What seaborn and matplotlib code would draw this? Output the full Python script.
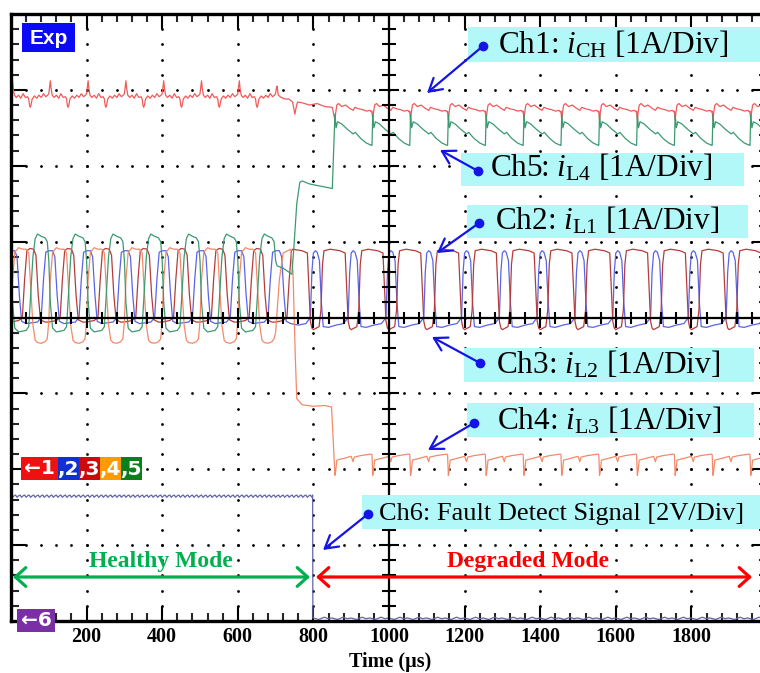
import numpy as np
import pandas as pd
import matplotlib
matplotlib.use("Agg")
import matplotlib.pyplot as plt
from matplotlib.patches import Rectangle, FancyArrowPatch
from matplotlib.lines import Line2D
import seaborn as sns

# ---------------- data (time in µs, amplitude in divisions) -------------
PERIOD = 100          # switching period (µs)
FAULT_T = 798         # fault detect signal edge (µs)
SWITCH_T = 745        # phases 1/2 change pattern (µs)
JUMP_T0 = 855         # first degraded-mode commutation (µs)
T_END = 2000

# Ch1 i_CH  (healthy one-period shape, absolute phase)
ch1_h_t = [0, 2, 4, 6, 9, 14, 20, 26, 32, 38, 44, 47, 49, 51, 53, 56, 62, 68, 74, 80, 86, 92, 97]
ch1_h_v = [2.95, 3.04, 3.12, 3.02, 2.93, 2.9, 2.93, 2.89, 2.95, 2.9, 2.91, 2.88, 2.8, 2.77, 2.8,
           2.88, 2.92, 2.89, 2.93, 2.9, 2.95, 2.91, 2.93]
ch1_tr_t = [700, 702, 704, 707, 715, 725, 735, 745, 748, 751, 754, 758, 770, 790, 810, 830, 850]
ch1_tr_v = [2.95, 3.02, 3.05, 2.93, 2.9, 2.88, 2.88, 2.84, 2.76, 2.68, 2.76, 2.84, 2.83, 2.8,
            2.82, 2.78, 2.77]
ch1_d_t = [0, 2, 4, 7, 12, 20, 30, 40, 50, 55, 65, 75, 85, 95, 98]
ch1_d_v = [2.72, 2.6, 2.7, 2.8, 2.82, 2.78, 2.8, 2.76, 2.73, 2.77, 2.75, 2.74, 2.72, 2.73, 2.71]

# Ch2 i_L1
ch2_h_t = [0, 10, 16, 22, 28, 40, 55, 70, 80, 86, 92]
ch2_h_v = [0.88, 0.88, 0.8, 0.3, -0.05, -0.08, -0.07, -0.06, 0.0, 0.5, 0.86]
ch2_d_t = [0, 5, 10, 16, 21, 26, 40, 60, 80, 92, 96]
ch2_d_v = [0.85, 0.88, 0.86, 0.75, 0.2, -0.12, -0.13, -0.1, -0.08, 0.0, 0.6]

# Ch3 i_L2
ch3_h_t = [0, 20, 30, 36, 42, 50, 60, 66, 72, 78, 90]
ch3_h_v = [-0.06, -0.04, 0.0, 0.5, 0.88, 0.91, 0.9, 0.82, 0.3, -0.03, -0.06]
ch3_d_t = [0, 15, 20, 24, 28, 45, 70, 84, 88, 92, 96]
ch3_d_v = [-0.16, -0.12, 0.1, 0.7, 0.88, 0.9, 0.88, 0.85, 0.4, -0.05, -0.14]

# Ch4 i_L3
ch4_h_t = [0, 4, 10, 20, 30, 40, 47, 52, 58, 64, 70, 80, 90, 96]
ch4_h_v = [-0.05, 0.5, 0.86, 0.92, 0.9, 0.9, 0.85, 0.4, -0.1, -0.3, -0.33, -0.34, -0.32, -0.28]
ch4_tr_t = [700, 710, 720, 740, 746, 752, 756, 770, 800, 830, 848]
ch4_tr_v = [-0.2, 0.5, 0.85, 0.9, 0.6, -0.5, -1.07, -1.15, -1.17, -1.16, -1.18]
ch4_d_t = [0, 2, 4, 7, 15, 30, 45, 50, 53, 70, 85, 98]
ch4_d_v = [-1.81, -2.08, -2.02, -1.88, -1.87, -1.85, -1.83, -1.9, -1.84, -1.82, -1.81, -1.8]

# Ch5 i_L4
ch5_h_t = [0, 4, 10, 20, 30, 40, 47, 52, 58, 64, 70, 80, 90, 96]
ch5_h_v = [0.75, 0.2, -0.14, -0.19, -0.18, -0.17, -0.12, 0.3, 0.8, 1.04, 1.1, 1.07, 1.05, 1.0]
ch5_tr_t = [700, 704, 720, 743, 748, 756, 764, 770, 790, 820, 850]
ch5_tr_v = [0.75, 0.68, 0.65, 0.57, 0.9, 1.5, 1.78, 1.8, 1.76, 1.73, 1.7]
ch5_d_t = [0, 2, 5, 9, 20, 35, 50, 56, 70, 85, 98]
ch5_d_v = [2.27, 2.68, 2.5, 2.58, 2.55, 2.48, 2.42, 2.44, 2.36, 2.3, 2.27]

# Ch6 fault detect signal
ch6_hi_t = [0, 4, 8]
ch6_hi_v = [-2.34, -2.37, -2.35]
ch6_lo_t = [0, 15, 30, 40]
ch6_lo_v = [-3.96, -3.98, -3.95, -3.97]

x_ticks = [200, 400, 600, 800, 1000, 1200, 1400, 1600, 1800]
x_ticklabels = ["200", "400", "600", "800", "1000", "1200", "1400", "1600", "1800"]

colors = {"ch1": "#f05a5a", "ch2": "#5a64e6", "ch3": "#b43c3c",
          "ch4": "#f28a6a", "ch5": "#3c9a70", "ch6": "#6464a8"}


def tile(tt, vv, start, stop, base, period=PERIOD):
    ts, vs = [], []
    while base < stop:
        for a, b in zip(tt, vv):
            t = base + a
            if start <= t < stop:
                ts.append(t)
                vs.append(b)
        base += period
    return ts, vs


def build():
    rows = []

    def add(name, ts, vs):
        for t, v in zip(ts, vs):
            rows.append((name, t, v))

    add("ch1", *tile(ch1_h_t, ch1_h_v, 0, 700, 0))
    add("ch1", ch1_tr_t, ch1_tr_v)
    add("ch1", *tile(ch1_d_t, ch1_d_v, JUMP_T0 + 1, T_END, JUMP_T0))
    for nm, ht, hv, dt, dv in [("ch2", ch2_h_t, ch2_h_v, ch2_d_t, ch2_d_v),
                               ("ch3", ch3_h_t, ch3_h_v, ch3_d_t, ch3_d_v)]:
        add(nm, *tile(ht, hv, 0, SWITCH_T, 0))
        add(nm, *tile(dt, dv, SWITCH_T, T_END, 700))
    add("ch4", *tile(ch4_h_t, ch4_h_v, 0, 700, 0))
    add("ch4", ch4_tr_t, ch4_tr_v)
    add("ch4", *tile(ch4_d_t, ch4_d_v, JUMP_T0 + 1, T_END, JUMP_T0))
    add("ch5", *tile(ch5_h_t, ch5_h_v, 0, 700, 0))
    add("ch5", ch5_tr_t, ch5_tr_v)
    add("ch5", *tile(ch5_d_t, ch5_d_v, JUMP_T0 + 1, T_END, JUMP_T0))
    add("ch6", *tile(ch6_hi_t, ch6_hi_v, 0, FAULT_T, 0, period=12))
    add("ch6", [FAULT_T, FAULT_T + 0.6], [ch6_hi_v[0], ch6_lo_v[0]])
    add("ch6", *tile(ch6_lo_t, ch6_lo_v, FAULT_T + 1, T_END, FAULT_T + 1, period=50))
    return pd.DataFrame(rows, columns=["ch", "t", "v"])


df = build()

# ---------------- figure ----------------
sns.set_style("white")
plt.rcParams["font.family"] = ["Liberation Serif", "DejaVu Serif"]
plt.rcParams["mathtext.fontset"] = "custom"
plt.rcParams["mathtext.rm"] = "Liberation Serif"
plt.rcParams["mathtext.it"] = "Liberation Serif:italic"
plt.rcParams["mathtext.bf"] = "Liberation Serif:bold"

W, H = 760, 673
fig = plt.figure(figsize=(W / 100, H / 100), dpi=100)
ax = fig.add_axes([11 / W, 1 - 621 / H, 756 / W, 607 / H])

# graticule dots
minor_x = np.arange(40, 2000, 40)
minor_y = np.round(np.arange(-3.8, 3.81, 0.2), 2)
for gx in [200, 400, 600, 800, 1200, 1400, 1600, 1800]:
    ax.plot(np.full(len(minor_y), gx), minor_y, ls="none", marker="o", ms=2.0,
            mew=0, color="black", zorder=1)
for gy in [-3, -2, -1, 1, 2, 3]:
    ax.plot(minor_x, np.full(len(minor_x), gy), ls="none", marker="o", ms=2.0,
            mew=0, color="black", zorder=1)

sns.lineplot(data=df, x="t", y="v", hue="ch", palette=colors, estimator=None,
             sort=False, legend=False, linewidth=0.9, ax=ax, zorder=3)

# centre cross with ticks
ax.axhline(0, color="black", lw=1.6, zorder=4)
ax.axvline(1000, color="black", lw=1.6, zorder=4)
mx = minor_x[minor_x % 200 != 0]
Mx = np.arange(200, 2000, 200)
ax.plot(mx, np.zeros(len(mx)), ls="none", marker="|", ms=9, mew=1.5, color="black", zorder=4)
ax.plot(Mx, np.zeros(len(Mx)), ls="none", marker="|", ms=15, mew=1.5, color="black", zorder=4)
my = np.array([y for y in minor_y if abs(y - round(y)) > 1e-6])
My = np.array([-3, -2, -1, 1, 2, 3])
ax.plot(np.full(len(my), 1000), my, ls="none", marker="_", ms=10, mew=1.5, color="black", zorder=4)
ax.plot(np.full(len(My), 1000), My, ls="none", marker="_", ms=15, mew=1.5, color="black", zorder=4)

ax.set_xlim(0, 2000)
ax.set_ylim(-4, 4)
ax.set_xticks(x_ticks)
ax.set_xticklabels(x_ticklabels, fontsize=14.5, fontweight="bold")
ax.set_xticks(minor_x, minor=True)
ax.set_yticks(np.arange(-3, 4, 1))
ax.set_yticklabels([])
ax.set_yticks(minor_y, minor=True)
ax.tick_params(axis="both", which="major", direction="in", length=10.5, width=1.5,
               top=True, bottom=True, left=True, right=True, pad=4, colors="black")
ax.tick_params(axis="both", which="minor", direction="in", length=5.5, width=1.5,
               top=True, bottom=True, left=True, right=True)
ax.set_xlabel("")
ax.set_ylabel("")
for sp in ax.spines.values():
    sp.set_linewidth(2.4)
    sp.set_color("black")
    sp.set_zorder(6)


def fxy(px, py):
    return px / W, 1 - py / H


def rect(x0, y0, x1, y1, color, z=2):
    fig.add_artist(Rectangle(fxy(x0, y1), (x1 - x0) / W, (y1 - y0) / H,
                             transform=fig.transFigure, facecolor=color,
                             edgecolor="none", zorder=z))


def ptext(px, py, s, **kw):
    fig.text(*fxy(px, py), s, **kw)


def arrow(p0, p1, color, style, lw, ms=15):
    fig.add_artist(FancyArrowPatch(fxy(*p0), fxy(*p1), transform=fig.transFigure,
                                   arrowstyle=style, color=color, lw=lw,
                                   shrinkA=0, shrinkB=0, mutation_scale=ms, zorder=8))


CYAN = "#b2f8f8"
BLUE = "#1414e6"
labels = [
    (468, 27, 770, 62, (483, 46), (427, 93), 498, 53, r"Ch1: $i_{\mathrm{CH}}$ [1A/Div]", 22.5),
    (461, 153, 744, 186, (478, 171), (440, 150), 490, 177, r"Ch5: $i_{\mathrm{L4}}$ [1A/Div]", 22.5),
    (467, 205, 748, 238, (479, 223), (437, 253), 495, 230, r"Ch2: $i_{\mathrm{L1}}$ [1A/Div]", 22.5),
    (464, 348, 754, 382, (480, 363), (432, 337), 496, 373, r"Ch3: $i_{\mathrm{L2}}$ [1A/Div]", 22.5),
    (467, 403, 754, 437, (474, 423), (428, 450), 497, 430, r"Ch4: $i_{\mathrm{L3}}$ [1A/Div]", 22.5),
    (362, 495, 770, 529, (368, 514), (323, 550), 379, 520, "Ch6: Fault Detect Signal [2V/Div]", 19),
]
for x0, y0, x1, y1, dot, tip, tx, ty, s, fs in labels:
    rect(x0, y0, x1, y1, CYAN, z=2)
    ptext(tx, ty, s, fontsize=fs, ha="left", va="baseline", color="black",
          family="Liberation Serif", zorder=5)
    arrow(dot, tip, BLUE, "->,head_length=0.6,head_width=0.35", 1.6)
    fig.add_artist(Line2D([dot[0] / W], [1 - dot[1] / H], transform=fig.transFigure,
                          marker="o", ms=7, color=BLUE, mew=0, zorder=9))

# mode arrows and labels
arrow((13, 577), (310, 577), "#00b050", "<->,head_length=0.5,head_width=0.45", 2.3)
arrow((316, 577), (752, 577), "#ff0000", "<->,head_length=0.5,head_width=0.45", 2.3)
ptext(161, 561, "Healthy Mode", fontsize=17, fontweight="bold", color="#00b050",
      ha="center", va="center", family="Liberation Serif", zorder=5)
ptext(528, 561, "Degraded Mode", fontsize=17, fontweight="bold", color="#ff0000",
      ha="center", va="center", family="Liberation Serif", zorder=5)

# "Exp" badge
rect(22, 23, 75, 52, "#0a0af5", z=3)
ptext(48.5, 38, "Exp", fontsize=15, fontweight="bold", color="white", ha="center",
      va="center", family=["Liberation Sans", "DejaVu Sans"], zorder=5)

# channel marker badges
badges = [(21, 58, "#ee1111", "\u21901"), (58, 79, "#1030d0", ",2"), (79, 100, "#cc0a0a", ",3"),
          (100, 121, "#ff9a00", ",4"), (121, 142, "#0a7f1a", ",5")]
for x0, x1, c, s in badges:
    rect(x0, 457, x1, 480, c, z=3)
    ptext((x0 + x1) / 2, 469, s, fontsize=14.5, fontweight="bold", color="white",
          ha="center", va="center", family=["DejaVu Sans"], zorder=5)
rect(17, 609, 55, 632, "#7a2fa5", z=3)
ptext(36, 621, "\u21906", fontsize=14.5, fontweight="bold", color="white",
      ha="center", va="center", family=["DejaVu Sans"], zorder=5)

ptext(390, 662, "Time (\u00b5s)", fontsize=14.5, fontweight="bold", color="black",
      ha="center", va="center", family="Liberation Serif")

fig.savefig("out.png", dpi=100)
